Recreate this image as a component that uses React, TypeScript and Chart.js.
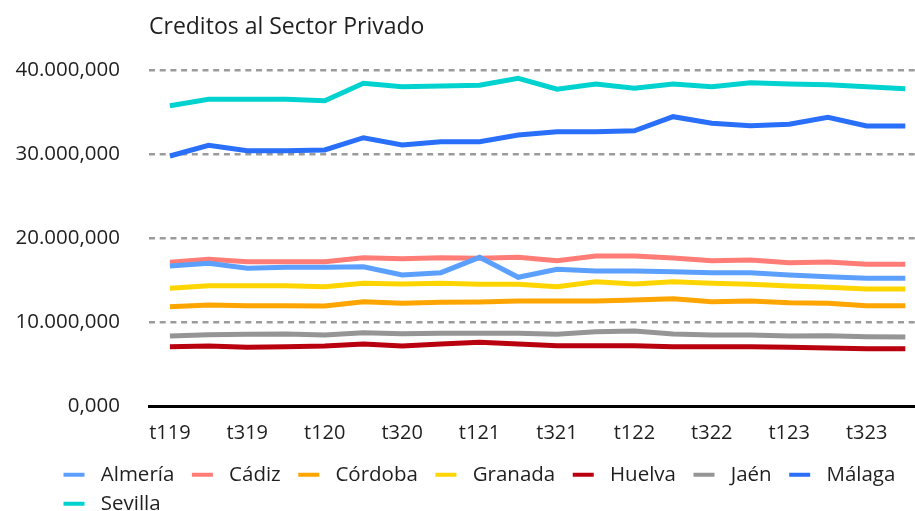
import React, { useEffect, useRef } from "react";
import { Chart, registerables } from "chart.js";

Chart.register(...registerables);

const categories = [
  "t119", "t219", "t319", "t419",
  "t120", "t220", "t320", "t420",
  "t121", "t221", "t321", "t421",
  "t122", "t222", "t322", "t422",
  "t123", "t223", "t323", "t423",
];

const yTicks = [0, 10000, 20000, 30000, 40000];
const xTickIdx = [0, 2, 4, 6, 8, 10, 12, 14, 16, 18];

const almeria = [16710, 17030, 16430, 16550, 16550, 16620, 15640, 15910, 17740, 15360, 16310, 16110, 16110, 16030, 15910, 15910, 15640, 15430, 15240, 15240];
const cadiz = [17150, 17500, 17220, 17220, 17220, 17690, 17570, 17690, 17620, 17740, 17340, 17900, 17900, 17660, 17340, 17420, 17100, 17180, 16910, 16910];
const cordoba = [11870, 12070, 11990, 11990, 11950, 12460, 12270, 12390, 12430, 12540, 12540, 12540, 12660, 12820, 12460, 12540, 12340, 12270, 11990, 11990];
const granada = [14050, 14360, 14360, 14360, 14240, 14650, 14570, 14650, 14530, 14530, 14240, 14840, 14570, 14840, 14650, 14530, 14330, 14170, 13970, 13970];
const huelva = [7110, 7190, 7040, 7110, 7190, 7430, 7190, 7430, 7630, 7430, 7230, 7230, 7230, 7110, 7110, 7110, 7040, 6960, 6870, 6870];
const jaen = [8380, 8540, 8590, 8620, 8500, 8780, 8660, 8700, 8700, 8700, 8590, 8890, 8980, 8620, 8500, 8500, 8380, 8420, 8300, 8260];
const malaga = [29790, 31060, 30420, 30420, 30500, 31960, 31090, 31490, 31490, 32280, 32680, 32680, 32790, 34460, 33670, 33390, 33560, 34390, 33350, 33350];
const sevilla = [35770, 36530, 36530, 36530, 36360, 38430, 38030, 38110, 38190, 39030, 37720, 38350, 37840, 38350, 38030, 38500, 38350, 38260, 38030, 37790];

const seriesNames = ["Almería", "Cádiz", "Córdoba", "Granada", "Huelva", "Jaén", "Málaga", "Sevilla"];
const seriesValues = [almeria, cadiz, cordoba, granada, huelva, jaen, malaga, sevilla];
const seriesColors = ["#5ca0ff", "#ff7d76", "#ffa500", "#ffd500", "#b8000e", "#959595", "#2a6ffa", "#00d3cf"];

const FONT = "'Open Sans', 'Noto Sans', sans-serif";
const TEXT = "#1f1f1f";

function fmt(v: number): string {
  const s = Math.round(v).toString();
  const grouped = s.replace(/\B(?=(\d{3})+(?!\d))/g, ".");
  return grouped + ",000";
}

function legendImage(color: string): HTMLCanvasElement {
  const c = document.createElement("canvas");
  c.width = 36;
  c.height = 6;
  const ctx = c.getContext("2d")!;
  ctx.fillStyle = color;
  ctx.fillRect(9, 1, 21, 4);
  return c;
}

// let the y tick labels extend to the left of the axis box without being clipped
const yLabelArea = {
  id: "yLabelArea",
  afterLayout(chart: any) {
    if (chart.scales && chart.scales.y) chart.scales.y.left = 0;
  },
};

export default function App() {
  const ref = useRef<HTMLCanvasElement | null>(null);

  useEffect(() => {
    if (!ref.current) return;
    const datasets = seriesNames.map((name, i) => ({
      label: name,
      data: seriesValues[i].map((v, j) => ({ x: j, y: v })),
      borderColor: seriesColors[i],
      backgroundColor: seriesColors[i],
      borderWidth: 5,
      pointRadius: 0,
      pointHoverRadius: 0,
      pointStyle: legendImage(seriesColors[i]),
      tension: 0,
      fill: false,
    }));

    const chart = new Chart(ref.current, {
      type: "line",
      data: { datasets },
      plugins: [yLabelArea],
      options: {
        animation: false,
        responsive: true,
        maintainAspectRatio: false,
        layout: { padding: { left: 46, right: 0, top: 0, bottom: -13 } },
        plugins: {
          tooltip: { enabled: false },
          title: {
            display: true,
            text: "Creditos al Sector Privado",
            align: "start",
            fullSize: false,
            color: TEXT,
            font: { family: FONT, size: 23, weight: "normal" },
            padding: { top: 14, bottom: 28.5 },
          },
          legend: {
            position: "bottom",
            align: "start",
            labels: {
              usePointStyle: true,
              pointStyleWidth: 36,
              boxHeight: 6,
              padding: 8.5,
              color: TEXT,
              font: { family: FONT, size: 20.5 },
            },
          },
        },
        scales: {
          x: {
            type: "linear",
            min: -0.54,
            max: 19.25,
            grid: { display: false, drawTicks: false },
            border: { display: true, color: "#000", width: 3 },
            afterBuildTicks: (axis: any) => {
              axis.ticks = xTickIdx.map((v) => ({ value: v }));
            },
            afterFit: (axis: any) => {
              axis.height = 49.5;
            },
            ticks: {
              autoSkip: false,
              maxRotation: 0,
              padding: 14.5,
              color: TEXT,
              font: { family: FONT, size: 20 },
              callback: (v: any) => categories[Number(v)] ?? "",
            },
          },
          y: {
            min: 0,
            max: 40000,
            afterBuildTicks: (axis: any) => {
              axis.ticks = yTicks.map((v) => ({ value: v }));
            },
            afterFit: (axis: any) => {
              axis.width = 103;
            },
            grid: {
              drawTicks: false,
              color: (ctx: any) => (ctx.tick && ctx.tick.value === 0 ? "rgba(0,0,0,0)" : "#9b9b9b"),
              lineWidth: 2.5,
            },
            border: { display: false, dash: [6, 4.7] },
            ticks: {
              padding: 29,
              color: TEXT,
              font: { family: FONT, size: 20.5 },
              callback: (v: any) => fmt(Number(v)),
            },
          },
        },
      },
    });
    return () => chart.destroy();
  }, []);

  return (
    <div style={{ position: "absolute", left: 0, top: 0, width: 915, height: 511 }}>
      <canvas ref={ref} />
    </div>
  );
}
